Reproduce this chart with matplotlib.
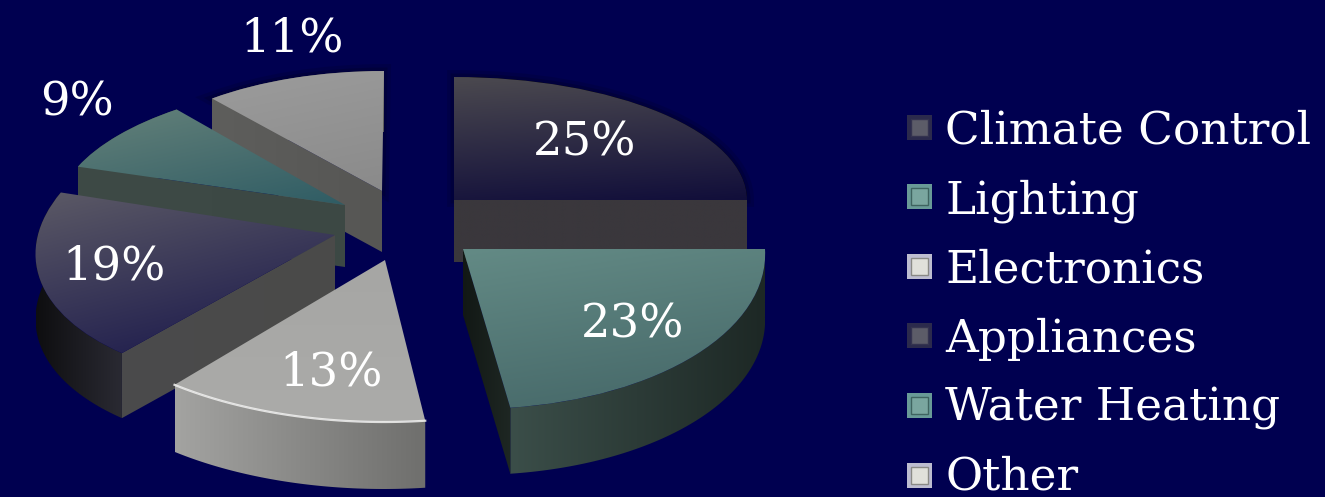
import numpy as np
import matplotlib
matplotlib.use('Agg')
import matplotlib.pyplot as plt
from matplotlib.colors import to_rgb
from matplotlib.patches import PathPatch, Polygon, Rectangle
from matplotlib.transforms import Affine2D

categories = ['Climate Control', 'Lighting', 'Electronics', 'Appliances', 'Water Heating', 'Other']
shares = [25, 23, 13, 19, 9, 11]
pct_labels = ['25%', '23%', '13%', '19%', '9%', '11%']

BG = '#000050'
FONT = 'DejaVu Serif'

# per slice perspective: apex x, apex y, a, b, c, d of the unit circle mapping, then depth
layout = {
    'Climate Control': (454, 200, 293, 0, 0, -123, 62),
    'Lighting': (463, 249, 302, -9.5, 0, -160, 66),
    'Electronics': (385, 260, 329, 1, 0, -162, 67),
    'Appliances': (335, 235, 298, 30, -4, -150, 65),
    'Water Heating': (345, 205, 287, 19, 0, -124, 62),
    'Other': (382, 191, 269, 2, 0, -120, 61),
}
# which radial edge shows a cut face
cut_edge = {'Climate Control': 'theta1', 'Lighting': 'theta1', 'Appliances': 'theta2',
            'Water Heating': 'theta2', 'Other': 'theta2'}
top_colors = {
    'Climate Control': ('#4b494f', '#110e3a', (0.15, 1)),
    'Lighting': ('#638a85', '#446667', (0.3, 1)),
    'Electronics': ('#a6a6a4', '#ababa9', (0, 1)),
    'Appliances': ('#5c5a66', '#17154a', (0.45, 1)),
    'Water Heating': ('#64817a', '#2f5c64', (0.6, 1)),
    'Other': ('#9c9c9c', '#8a8a8a', (0.3, 1)),
}
side_colors = {
    'Climate Control': ('#000000', '#000000'),
    'Lighting': ('#3b4e49', '#1d2825'),
    'Electronics': ('#a3a3a1', '#6f6f6d'),
    'Appliances': ('#0e0e10', '#2a2a33'),
    'Water Heating': ('#3d4a45', '#3d4a45'),
    'Other': ('#5a5a58', '#5a5a58'),
}
cut_colors = {
    'Climate Control': ('#3a373c', '#3a373c'),
    'Lighting': ('#121815', '#1e2723'),
    'Appliances': ('#4a4a4c', '#4b4b49'),
    'Water Heating': ('#3e4a46', '#3c4844'),
    'Other': ('#5e5e5c', '#565654'),
}
label_pos = {'25%': (585, 155), '23%': (633, 337), '13%': (331, 386),
             '19%': (114, 280), '9%': (77, 116), '11%': (292, 52)}
draw_order = ['Other', 'Climate Control', 'Water Heating', 'Appliances', 'Lighting', 'Electronics']
# outer square, inner square, inner line
legend_marks = [('#2b2a4c', '#5c5c68', '#34334f'), ('#699a97', '#7aa69f', '#3f6460'), ('#bdbdd0', '#e0e0da', '#8a8a86'),
                ('#2b2a4c', '#5c5c68', '#34334f'), ('#699a97', '#7aa69f', '#3f6460'), ('#bdbdd0', '#e0e0da', '#8a8a86')]
# slices that get a soft shadow on the background
shadowed = ['Other', 'Climate Control']


def gradient_fill(ax, patch, c0, c1, direction, z):
    # linear gradient image clipped to a patch
    verts = patch.get_path().vertices if patch.get_transform() is None else \
        patch.get_transform().transform(patch.get_path().vertices)
    verts = ax.transData.inverted().transform(verts)
    x0, y0 = verts.min(axis=0)
    x1, y1 = verts.max(axis=0)
    gx, gy = np.meshgrid(np.linspace(0, 1, 120), np.linspace(0, 1, 120))
    t = gx * direction[0] + gy * direction[1]
    t = (t - t.min()) / (t.max() - t.min())
    rgb = np.array(to_rgb(c0)) * (1 - t[..., None]) + np.array(to_rgb(c1)) * t[..., None]
    im = ax.imshow(rgb, extent=(x0, x1, y1, y0), aspect='auto', zorder=z, interpolation='bilinear')
    im.set_clip_path(patch)


fig = plt.figure(figsize=(13.25, 4.97), dpi=100, facecolor=BG)
ax = fig.add_axes([0, 0, 1, 1], facecolor=BG)
wedges, _ = ax.pie(shares, startangle=90, counterclock=False, radius=1)
ax.set_aspect('auto')
ax.set_xlim(0, 1325)
ax.set_ylim(497, 0)
ax.axis('off')

wedge_by_name = dict(zip(categories, wedges))
z = 2
for name in draw_order:
    w = wedge_by_name[name]
    px, py, a, b, c, d, depth = layout[name]
    tf = Affine2D(np.array([[a, b, px], [c, d, py], [0, 0, 1]], dtype=float))
    w.set_visible(False)

    phi = np.radians(np.linspace(w.theta1, w.theta2, 80))
    arc = tf.transform(np.column_stack([np.cos(phi), np.sin(phi)]))
    drop = np.array([0, depth])

    outline = tf.transform_path(w.get_path())

    if name in shadowed:
        for lw, al in ((10, 0.10), (5, 0.14)):
            ax.add_patch(PathPatch(outline, facecolor='none', edgecolor='black', lw=lw, alpha=al, zorder=z))
        z += 1

    # outer wall
    wall = Polygon(np.vstack([arc, (arc + drop)[::-1]]), closed=True, facecolor='none', edgecolor='none', zorder=z)
    ax.add_patch(wall)
    s0, s1 = side_colors[name]
    gradient_fill(ax, wall, s0, s1, (1, 0), z)
    z += 1

    # cut face along one radial edge
    if name in cut_edge:
        end = np.radians(getattr(w, cut_edge[name]))
        rim = tf.transform([[np.cos(end), np.sin(end)]])[0]
        apex = np.array([px, py], dtype=float)
        face = Polygon([apex, rim, rim + drop, apex + drop], closed=True, facecolor='none', edgecolor='none', zorder=z)
        ax.add_patch(face)
        f0, f1 = cut_colors[name]
        gradient_fill(ax, face, f0, f1, (1, 0), z)
        z += 1

    # top face
    top = PathPatch(outline, facecolor='none', edgecolor='none', zorder=z)
    ax.add_patch(top)
    t0, t1, direction = top_colors[name]
    gradient_fill(ax, top, t0, t1, direction, z)
    z += 1

    if name == 'Electronics':
        ax.plot(arc[:, 0], arc[:, 1], color='#f2f2f0', lw=1.6, alpha=0.85, zorder=z)
        z += 1

for label in pct_labels:
    x, y = label_pos[label]
    ax.text(x, y, label, color='white', fontsize=33.5, family=FONT, ha='center', va='baseline', zorder=50)

# legend on the right
for i, name in enumerate(categories):
    cy = 127 + i * 69.6
    outer, inner, line = legend_marks[i]
    ax.add_patch(Rectangle((907, cy - 12.5), 25, 25, facecolor=outer, edgecolor='none', zorder=50))
    ax.add_patch(Rectangle((911, cy - 8.5), 17, 17, facecolor=inner, edgecolor=line, lw=1, zorder=51))
    ax.text(945, 144 + i * 69.2, name, color='white', fontsize=32.7, family=FONT, ha='left', va='baseline', zorder=50)

ax.set_xlim(0, 1325)
ax.set_ylim(497, 0)
fig.savefig('out.png', dpi=100, facecolor=BG)
